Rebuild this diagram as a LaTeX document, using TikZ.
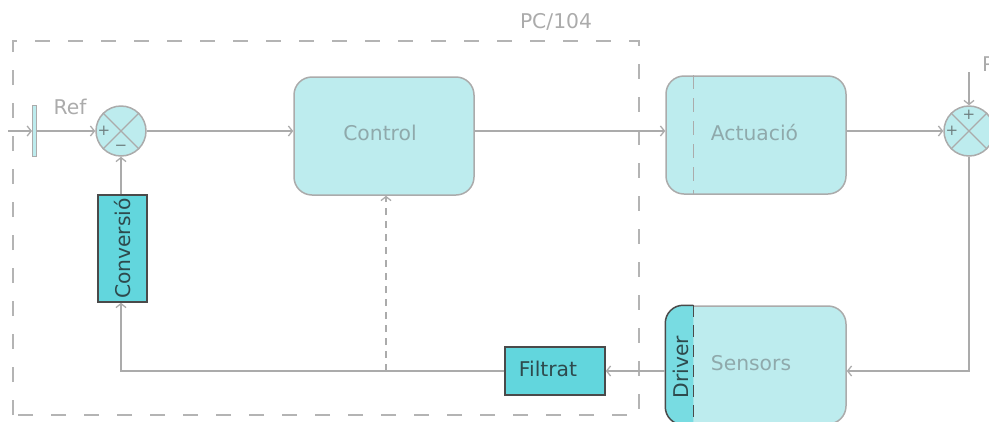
\documentclass[tikz,border=0pt]{standalone}
\usepackage{fontspec}
\usepackage{graphicx}
\setmainfont{DejaVu Sans}
\usetikzlibrary{arrows.meta}

\definecolor{lightcy}{HTML}{BDECEE}
\definecolor{darkcy}{HTML}{62D6DD}
\definecolor{drvcy}{HTML}{78DCE2}
\definecolor{edgegray}{HTML}{ABABAB}
\definecolor{framegray}{HTML}{B4B4B4}
\definecolor{lblgray}{HTML}{ABABAB}
\definecolor{softtext}{HTML}{8FA9AB}
\definecolor{darktext}{HTML}{2E4A4D}
\definecolor{darkedge}{HTML}{4A4A4A}
\definecolor{signgray}{HTML}{6F7F80}

\begin{document}
\begin{tikzpicture}[x=1pt,y=-1pt,
  font=\fontsize{20.3}{24}\selectfont,
  wire/.style={draw=edgegray, line width=1.3pt},
  flow/.style={wire, -{Straight Barb[length=4pt,width=10pt]}},
  softbox/.style={draw=edgegray, fill=lightcy, line width=1.5pt,
    rounded corners=18pt, text=softtext, minimum width=180pt,
    minimum height=118pt, inner sep=0pt},
  hardbox/.style={draw=darkedge, fill=darkcy, line width=1.5pt,
    text=darktext, inner sep=0pt},
  sumnode/.style={circle, draw=edgegray, fill=lightcy, line width=1.5pt,
    minimum size=50pt, inner sep=0pt},
  sign/.style={text=signgray, font=\fontsize{15}{16}\selectfont, inner sep=0pt},
  caption/.style={text=lblgray}
]
\useasboundingbox (0,0) rectangle (989,421);

% PC/104 enclosure
\draw[framegray, line width=2pt, dash pattern=on 15pt off 18pt]
  (13,415) -- (13,41) -- (639,41) -- (639,415) -- cycle;
\node[caption] (pclabel) at (556,22) {PC/104};

% reference input
\coordinate (refin) at (8,131);
\node[draw=edgegray, fill=lightcy, line width=1pt, minimum width=4pt,
  minimum height=51pt, inner sep=0pt] (ref) at (34.5,131) {};
\node[caption] (reflabel) at (70,107) {Ref};

% first summing junction
\node[sumnode] (sum1) at (121,131) {};
\draw[edgegray, line width=1.2pt] (sum1.north west) -- (sum1.south east);
\draw[edgegray, line width=1.2pt] (sum1.north east) -- (sum1.south west);
\node[sign] (s1a) at (104,131) {+};
\node[sign] (s1b) at (121,148) {−};

% main blocks
\node[softbox] (control) at (384,136) {};
\node[text=softtext] (ctllabel) at (380,133) {Control};
\node[softbox] (act) at (756,135) {};
\node[text=softtext] (actlabel) at (754.5,133) {Actuació};
\draw[edgegray, line width=1.5pt, dash pattern=on 14pt off 9pt]
  ([xshift=28pt]act.north west) -- ([xshift=28pt]act.south west);

% second summing junction (disturbance)
\node[sumnode] (sum2) at (969,131) {};
\draw[edgegray, line width=1.2pt] (sum2.north west) -- (sum2.south east);
\draw[edgegray, line width=1.2pt] (sum2.north east) -- (sum2.south west);
\node[sign] (s2a) at (952,131) {+};
\node[sign] (s2b) at (969,115) {+};
\coordinate (dist) at (969,72);
\node[caption, anchor=west, inner sep=0pt] (distlabel) at (982,64) {P};

% sensors with driver section
\node[softbox] (sensors) at (756,365) {};
\filldraw[fill=drvcy, draw=darkedge, line width=1.5pt, rounded corners=18pt]
  ([xshift=28pt]sensors.north west) -- (sensors.north west)
  -- (sensors.south west) -- ([xshift=28pt]sensors.south west);
\draw[darkedge, line width=1.5pt, dash pattern=on 12pt off 8pt]
  ([xshift=28pt]sensors.north west) -- ([xshift=28pt]sensors.south west);
\node[text=darktext, rotate=90] (driver) at (681,367) {Driver};
\node[text=softtext] (senslabel) at (751,363) {Sensors};

% signal conditioning
\node[hardbox, minimum width=100pt, minimum height=48pt] (filt) at (555,371) {};
\node[text=darktext] (filtlabel) at (548,369) {Filtrat};
\node[hardbox, minimum width=49pt, minimum height=107pt] (conv) at (122.5,248.5)
  {\rotatebox{90}{Conversió}};

% connections
\draw[flow] (refin) -- (ref.west);
\draw[flow] (ref.east) -- (sum1.west);
\draw[flow] (sum1.east) -- (sum1.east -| control.west);
\draw[flow] (sum1.east -| control.east) -- (sum1.east -| act.west);
\draw[flow] (sum2.west -| act.east) -- (sum2.west);
\draw[flow] (dist) -- (sum2.north);
\draw[flow] (sum2.south) |- ([yshift=-6pt]sensors.east);
\draw[flow] ([yshift=-6pt]sensors.west) -- (filt.east);
\draw[flow] (filt.west) -| (sum1.south |- conv.south);
\draw[flow] (sum1.south |- conv.north) -- (sum1.south);
\coordinate (tap) at (386,371);
\draw[flow, dash pattern=on 7pt off 6pt] (tap) -- (tap |- control.south);
\end{tikzpicture}
\end{document}
